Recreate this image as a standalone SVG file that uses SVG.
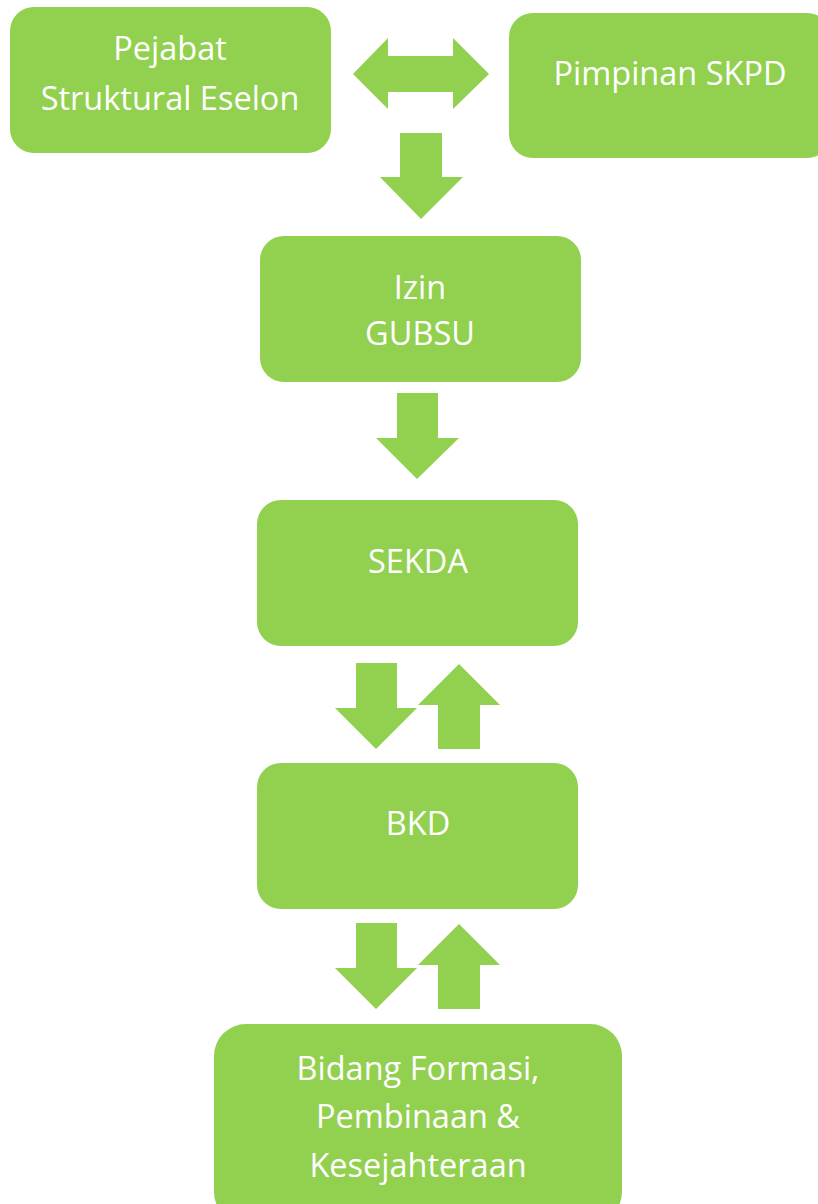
<svg xmlns="http://www.w3.org/2000/svg" width="818" height="1204" viewBox="0 0 818 1204">
  <style>
    .box { fill: #92d050; }
    .arrow { fill: #92d050; }
    .label { fill: #ffffff; font-family: "Open Sans", "Liberation Sans", sans-serif; font-size: 32.5px; text-anchor: middle; }
  </style>
  <rect width="818" height="1204" fill="#ffffff"/>

  <g id="node-pejabat">
    <rect class="box" x="10" y="7" width="321" height="146" rx="24"/>
    <text class="label" x="170" y="60">Pejabat</text>
    <text class="label" x="170" y="110">Struktural Eselon</text>
  </g>

  <g id="node-pimpinan">
    <rect class="box" x="509" y="13" width="322" height="145" rx="24"/>
    <text class="label" x="670" y="85">Pimpinan SKPD</text>
  </g>

  <g id="node-izin">
    <rect class="box" x="260" y="236" width="321" height="146" rx="24"/>
    <text class="label" x="420" y="299">Izin</text>
    <text class="label" x="420" y="345">GUBSU</text>
  </g>

  <g id="node-sekda">
    <rect class="box" x="257" y="500" width="321" height="146" rx="24"/>
    <text class="label" x="418" y="573">SEKDA</text>
  </g>

  <g id="node-bkd">
    <rect class="box" x="257" y="763" width="321" height="146" rx="24"/>
    <text class="label" x="418" y="835">BKD</text>
  </g>

  <g id="node-bidang">
    <rect class="box" x="214" y="1024" width="408" height="200" rx="32"/>
    <text class="label" x="418" y="1080">Bidang Formasi,</text>
    <text class="label" x="418" y="1128">Pembinaan &amp;</text>
    <text class="label" x="418" y="1177">Kesejahteraan</text>
  </g>

  <g id="connectors">
    <!-- two-way arrow between the top boxes -->
    <polygon class="arrow" points="353,74 388,38 388,56 453,56 453,38 489,74 453,109 453,92 388,92 388,109"/>
    <!-- Pejabat -> Izin -->
    <polygon class="arrow" points="400,133 442,133 442,177 463,177 421,219 380,177 400,177"/>
    <!-- Izin -> SEKDA -->
    <polygon class="arrow" points="397,393 438,393 438,438 459,438 417,479 376,438 397,438"/>
    <!-- SEKDA <-> BKD -->
    <polygon class="arrow" points="356,663 397,663 397,708 417,708 376,749 335,708 356,708"/>
    <polygon class="arrow" points="459,664 500,705 480,705 480,749 438,749 438,705 418,705"/>
    <!-- BKD <-> Bidang -->
    <polygon class="arrow" points="356,923 397,923 397,968 417,968 376,1009 335,968 356,968"/>
    <polygon class="arrow" points="459,924 500,965 480,965 480,1009 438,1009 438,965 418,965"/>
  </g>
</svg>
